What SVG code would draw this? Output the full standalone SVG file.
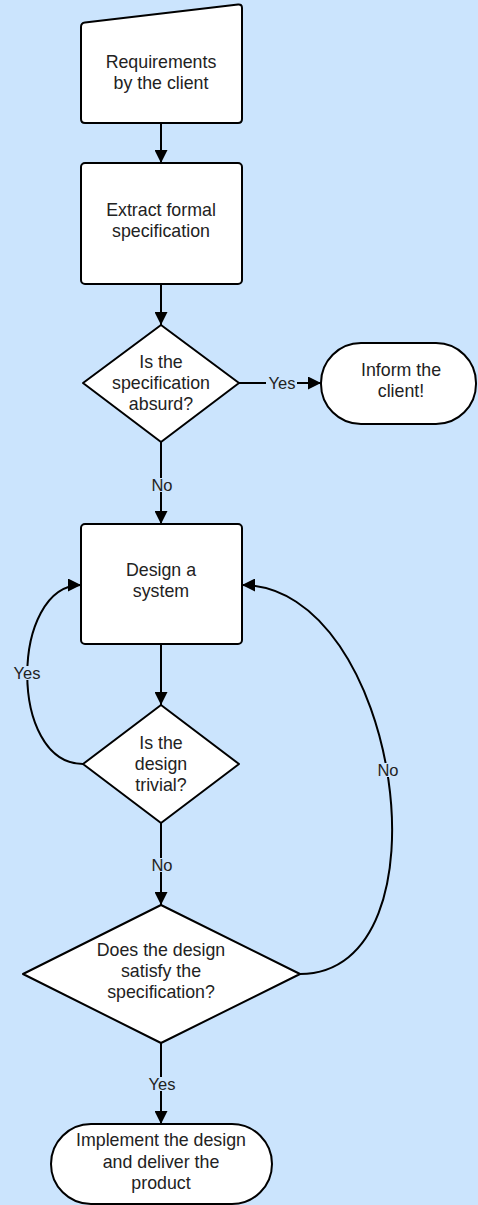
<svg xmlns="http://www.w3.org/2000/svg" width="478" height="1205" viewBox="0 0 478 1205">
<defs>
<style>
.bg{fill:#cbe4fd}
.shape{fill:#ffffff;stroke:#000000;stroke-width:2;stroke-linejoin:round}
.t{font-family:"Liberation Sans",Arial,sans-serif;font-size:17.8px;fill:#222222;text-anchor:middle}
.lbl{font-family:"Liberation Sans",Arial,sans-serif;font-size:16.5px;fill:#222222;text-anchor:middle}
.edge{fill:none;stroke:#000000;stroke-width:2}
.ko{fill:#cbe4fd}
</style>
<marker id="arr" markerUnits="userSpaceOnUse" markerWidth="14" markerHeight="13" refX="13" refY="6.5" orient="auto">
<path d="M0,0 L13,6.5 L0,13 Z" fill="#000000"/>
</marker>
</defs>
<rect class="bg" x="0" y="0" width="478" height="1205"/>

<g id="connectors">
<path class="edge" d="M161,123 L161,163" marker-end="url(#arr)"/>
<path class="edge" d="M161,284 L161,325" marker-end="url(#arr)"/>
<path class="edge" d="M239,383 L321,383" marker-end="url(#arr)"/>
<path class="edge" d="M161,442 L161,524" marker-end="url(#arr)"/>
<path class="edge" d="M161,644 L161,705" marker-end="url(#arr)"/>
<path class="edge" d="M83,764 C8,764 10,585 81,585" marker-end="url(#arr)"/>
<path class="edge" d="M161,823 L161,905" marker-end="url(#arr)"/>
<path class="edge" d="M300,974 C455,974 400,585 242,585" marker-end="url(#arr)"/>
<path class="edge" d="M161,1043 L161,1124" marker-end="url(#arr)"/>
<rect class="ko" x="266" y="377" width="31" height="14"/>
<text class="lbl" x="282" y="389">Yes</text>
<rect class="ko" x="150" y="478" width="24" height="14"/>
<text class="lbl" x="162" y="491">No</text>
<rect class="ko" x="12" y="666" width="30" height="14"/>
<text class="lbl" x="27" y="679">Yes</text>
<rect class="ko" x="150" y="858" width="24" height="14"/>
<text class="lbl" x="162" y="871">No</text>
<rect class="ko" x="376" y="763" width="24" height="14"/>
<text class="lbl" x="388" y="776">No</text>
<rect class="ko" x="147" y="1077" width="30" height="14"/>
<text class="lbl" x="162" y="1090">Yes</text>
</g>

<g id="requirements">
<path class="shape" d="M85,22.5 L238,4.5 Q242,4 242,8 L242,119 Q242,123 238,123 L85,123 Q81,123 81,119 L81,27 Q81,23 85,22.5 Z"/>
<text class="t" x="161" y="68">Requirements</text>
<text class="t" x="161" y="89">by the client</text>
</g>

<g id="extract">
<rect class="shape" x="81" y="163" width="161" height="121" rx="4"/>
<text class="t" x="161" y="216">Extract formal</text>
<text class="t" x="161" y="237">specification</text>
</g>

<g id="absurd">
<path class="shape" d="M161,325 L239,383 L161,442 L83,383 Z"/>
<text class="t" x="161" y="368">Is the</text>
<text class="t" x="161" y="389">specification</text>
<text class="t" x="161" y="410">absurd?</text>
</g>

<g id="inform">
<rect class="shape" x="321" y="343" width="155" height="81" rx="40" ry="40"/>
<text class="t" x="401" y="376">Inform the</text>
<text class="t" x="401" y="397">client!</text>
</g>

<g id="design">
<rect class="shape" x="81" y="524" width="161" height="120" rx="4"/>
<text class="t" x="161" y="576">Design a</text>
<text class="t" x="161" y="597">system</text>
</g>

<g id="trivial">
<path class="shape" d="M161,705 L239,764 L161,823 L83,764 Z"/>
<text class="t" x="161" y="749">Is the</text>
<text class="t" x="161" y="770">design</text>
<text class="t" x="161" y="791">trivial?</text>
</g>

<g id="satisfy">
<path class="shape" d="M161,905 L300,974 L161,1043 L23,974 Z"/>
<text class="t" x="161" y="956">Does the design</text>
<text class="t" x="161" y="977">satisfy the</text>
<text class="t" x="161" y="998">specification?</text>
</g>

<g id="implement">
<rect class="shape" x="51" y="1124" width="221" height="80" rx="40" ry="40"/>
<text class="t" x="161" y="1146">Implement the design</text>
<text class="t" x="161" y="1168">and deliver the</text>
<text class="t" x="161" y="1189">product</text>
</g>
</svg>
